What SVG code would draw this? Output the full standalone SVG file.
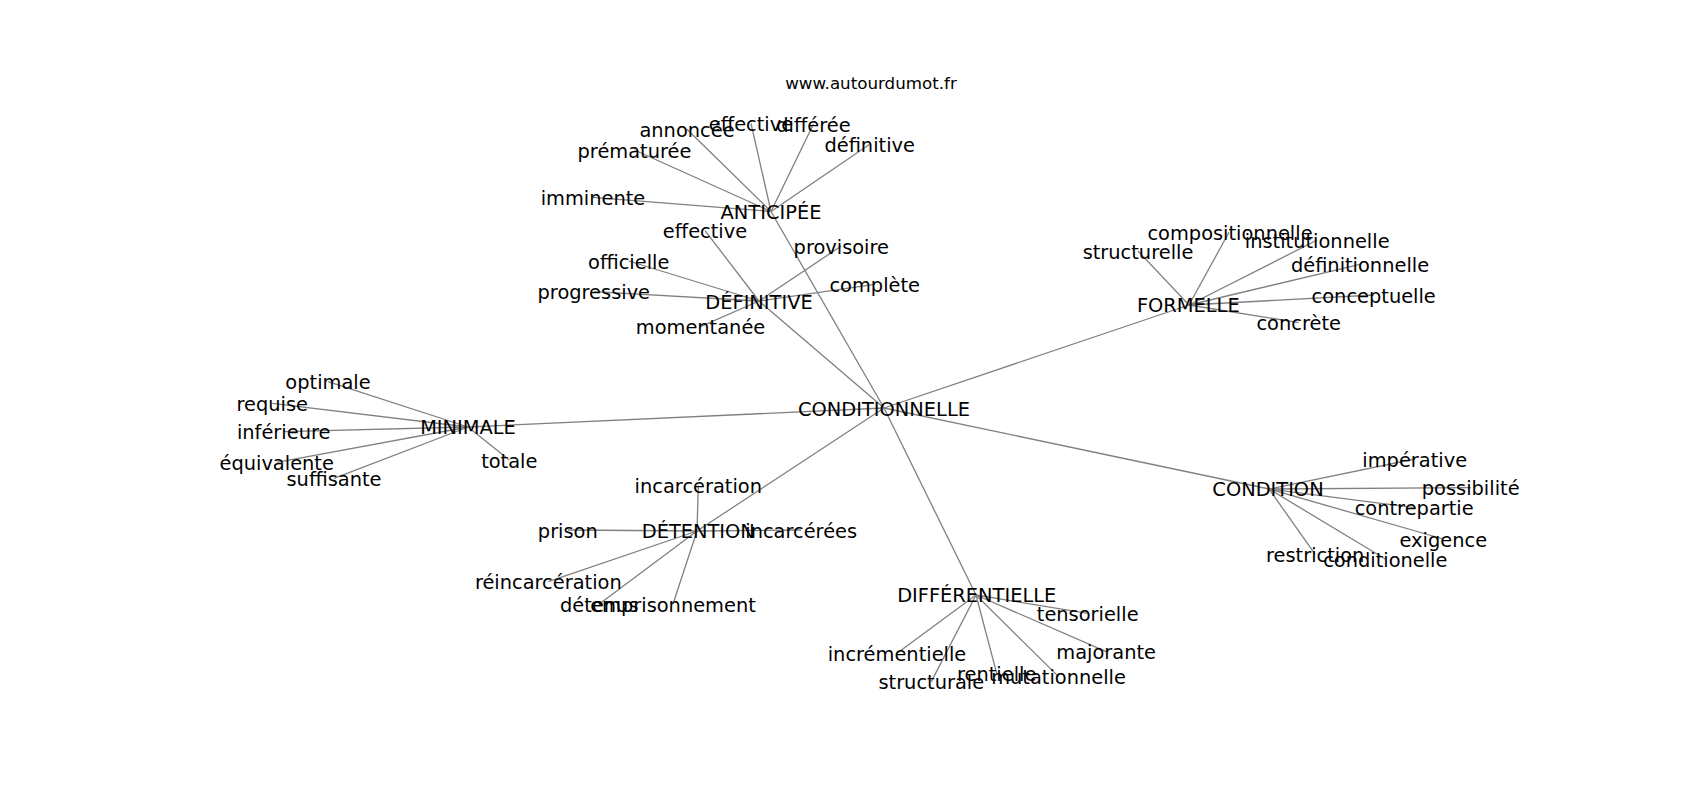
<svg xmlns="http://www.w3.org/2000/svg" width="1700" height="800" viewBox="0 0 1700 800">
<style>
text{font-family:"DejaVu Sans","Liberation Sans",sans-serif;font-size:19.4px;fill:#000;text-anchor:middle;dominant-baseline:central}
.title{font-size:16.7px}
#connectors line{stroke:#808080;stroke-width:1.3}
</style>
<rect width="1700" height="800" fill="#fff"/>
<text class="title" x="871" y="83">www.autourdumot.fr</text>
<g id="connectors">
<line x1="884" y1="408" x2="771" y2="211.5"/>
<line x1="884" y1="408" x2="759" y2="301"/>
<line x1="884" y1="408" x2="1189" y2="305"/>
<line x1="884" y1="408" x2="468" y2="427"/>
<line x1="884" y1="408" x2="1269" y2="489"/>
<line x1="884" y1="408" x2="697" y2="531"/>
<line x1="884" y1="408" x2="976" y2="595"/>
<line x1="771" y1="211.5" x2="593" y2="197.3"/>
<line x1="771" y1="211.5" x2="634.5" y2="150"/>
<line x1="771" y1="211.5" x2="687" y2="129.3"/>
<line x1="771" y1="211.5" x2="751" y2="123.3"/>
<line x1="771" y1="211.5" x2="813.5" y2="124"/>
<line x1="771" y1="211.5" x2="869.7" y2="144.3"/>
<line x1="759" y1="301" x2="705" y2="230.6"/>
<line x1="759" y1="301" x2="841.3" y2="246"/>
<line x1="759" y1="301" x2="628.7" y2="261"/>
<line x1="759" y1="301" x2="593.8" y2="291.6"/>
<line x1="759" y1="301" x2="874.7" y2="284.3"/>
<line x1="759" y1="301" x2="700.5" y2="326.6"/>
<line x1="1189" y1="305" x2="1138" y2="251"/>
<line x1="1189" y1="305" x2="1229" y2="232.3"/>
<line x1="1189" y1="305" x2="1317.2" y2="240"/>
<line x1="1189" y1="305" x2="1360" y2="264.3"/>
<line x1="1189" y1="305" x2="1373.7" y2="295"/>
<line x1="1189" y1="305" x2="1298.7" y2="322.6"/>
<line x1="1269" y1="489" x2="1414.7" y2="459"/>
<line x1="1269" y1="489" x2="1470.7" y2="487.6"/>
<line x1="1269" y1="489" x2="1414.2" y2="507.6"/>
<line x1="1269" y1="489" x2="1443.3" y2="539"/>
<line x1="1269" y1="489" x2="1315.2" y2="554.3"/>
<line x1="1269" y1="489" x2="1385.3" y2="559"/>
<line x1="468" y1="427" x2="328" y2="381.6"/>
<line x1="468" y1="427" x2="272.3" y2="403.3"/>
<line x1="468" y1="427" x2="283.7" y2="431.6"/>
<line x1="468" y1="427" x2="276.7" y2="462.3"/>
<line x1="468" y1="427" x2="334" y2="478.3"/>
<line x1="468" y1="427" x2="509.3" y2="460"/>
<line x1="697" y1="531" x2="698.3" y2="485.6"/>
<line x1="697" y1="531" x2="567.8" y2="530"/>
<line x1="697" y1="531" x2="801.2" y2="530"/>
<line x1="697" y1="531" x2="548.3" y2="581.6"/>
<line x1="697" y1="531" x2="599.3" y2="604"/>
<line x1="697" y1="531" x2="673" y2="604"/>
<line x1="976" y1="595" x2="1087.7" y2="613.3"/>
<line x1="976" y1="595" x2="897" y2="653.3"/>
<line x1="976" y1="595" x2="1106.2" y2="651.6"/>
<line x1="976" y1="595" x2="931.3" y2="681.6"/>
<line x1="976" y1="595" x2="996.7" y2="673.3"/>
<line x1="976" y1="595" x2="1058.5" y2="676.6"/>
</g>
<g id="nodes" transform="translate(0,1)">
<g id="n-conditionnelle"><text x="884" y="408">CONDITIONNELLE</text></g>
<g id="n-anticipee"><text x="771" y="211.5">ANTICIPÉE</text></g>
<g id="n-imminente"><text x="593" y="197.3">imminente</text></g>
<g id="n-prematuree"><text x="634.5" y="150">prématurée</text></g>
<g id="n-annoncee"><text x="687" y="129.3">annoncée</text></g>
<g id="n-effective1"><text x="751" y="123.3">effective</text></g>
<g id="n-differee"><text x="813.5" y="124">différée</text></g>
<g id="n-definitive1"><text x="869.7" y="144.3">définitive</text></g>
<g id="n-definitive"><text x="759" y="301">DÉFINITIVE</text></g>
<g id="n-effective2"><text x="705" y="230.6">effective</text></g>
<g id="n-provisoire"><text x="841.3" y="246">provisoire</text></g>
<g id="n-officielle"><text x="628.7" y="261">officielle</text></g>
<g id="n-progressive"><text x="593.8" y="291.6">progressive</text></g>
<g id="n-complete"><text x="874.7" y="284.3">complète</text></g>
<g id="n-momentanee"><text x="700.5" y="326.6">momentanée</text></g>
<g id="n-formelle"><text x="1188.3" y="304.3">FORMELLE</text></g>
<g id="n-structurelle"><text x="1138" y="251">structurelle</text></g>
<g id="n-compositionnelle"><text x="1230" y="232.3">compositionnelle</text></g>
<g id="n-institutionnelle"><text x="1317.2" y="240">institutionnelle</text></g>
<g id="n-definitionnelle"><text x="1360" y="264.3">définitionnelle</text></g>
<g id="n-conceptuelle"><text x="1373.7" y="295">conceptuelle</text></g>
<g id="n-concrete"><text x="1298.7" y="322.6">concrète</text></g>
<g id="n-condition"><text x="1268" y="488.3">CONDITION</text></g>
<g id="n-imperative"><text x="1414.7" y="459">impérative</text></g>
<g id="n-possibilite"><text x="1470.7" y="487.6">possibilité</text></g>
<g id="n-contrepartie"><text x="1414.2" y="507.6">contrepartie</text></g>
<g id="n-exigence"><text x="1443.3" y="539">exigence</text></g>
<g id="n-restriction"><text x="1315.2" y="554.3">restriction</text></g>
<g id="n-conditionelle"><text x="1385.3" y="559">conditionelle</text></g>
<g id="n-minimale"><text x="468" y="426.6">MINIMALE</text></g>
<g id="n-optimale"><text x="328" y="381.6">optimale</text></g>
<g id="n-requise"><text x="272.3" y="403.3">requise</text></g>
<g id="n-inferieure"><text x="283.7" y="431.6">inférieure</text></g>
<g id="n-equivalente"><text x="276.7" y="462.3">équivalente</text></g>
<g id="n-suffisante"><text x="334" y="478.3">suffisante</text></g>
<g id="n-totale"><text x="509.3" y="460">totale</text></g>
<g id="n-detention"><text x="698.3" y="530">DÉTENTION</text></g>
<g id="n-incarceration"><text x="698.3" y="485.6">incarcération</text></g>
<g id="n-prison"><text x="567.8" y="530">prison</text></g>
<g id="n-incarcerees"><text x="801.2" y="530">incarcérées</text></g>
<g id="n-reincarceration"><text x="548.3" y="581.6">réincarcération</text></g>
<g id="n-detenus"><text x="599.3" y="604">détenus</text></g>
<g id="n-emprisonnement"><text x="673" y="604">emprisonnement</text></g>
<g id="n-differentielle"><text x="976.7" y="594.3">DIFFÉRENTIELLE</text></g>
<g id="n-tensorielle"><text x="1087.7" y="613.3">tensorielle</text></g>
<g id="n-incrementielle"><text x="897" y="653.3">incrémentielle</text></g>
<g id="n-majorante"><text x="1106.2" y="651.6">majorante</text></g>
<g id="n-structurale"><text x="931.3" y="681.6">structurale</text></g>
<g id="n-rentielle"><text x="996.7" y="673.3">rentielle</text></g>
<g id="n-mutationnelle"><text x="1058.5" y="676.6">mutationnelle</text></g>
</g>
</svg>
